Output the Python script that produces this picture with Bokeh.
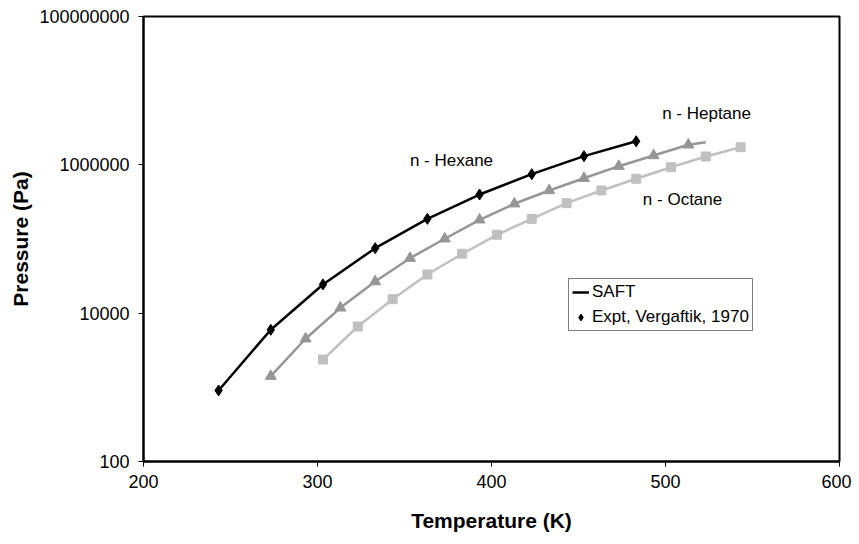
from bokeh.plotting import figure
from bokeh.models import Range1d, FixedTicker, NumeralTickFormatter, Legend, LegendItem, Label
from bokeh.embed import file_html
from bokeh.resources import INLINE

# Temperatures (K) and vapour pressures (Pa)
hexane_T = [243.15, 273.15, 303.15, 333.15, 363.15, 393.15, 423.15, 453.15, 483.15]
hexane_P = [908, 5970, 24400, 75200, 187000, 398000, 748000, 1310000, 2080000]

heptane_T = [273.15, 293.15, 313.15, 333.15, 353.15, 373.15, 393.15, 413.15,
             433.15, 453.15, 473.15, 493.15, 513.15]
heptane_P = [1413, 4520, 11800, 26700, 55100, 100700, 181500, 298500,
             451000, 660000, 959000, 1336000, 1862000]

octane_T = [303.15, 323.15, 343.15, 363.15, 383.15, 403.15, 423.15, 443.15,
            463.15, 483.15, 503.15, 523.15, 543.15]
octane_P = [2370, 6610, 15430, 33200, 63200, 114000, 187000, 304000,
            451000, 649000, 929000, 1295000, 1730000]

# SAFT curves
saft_hexane_T = hexane_T
saft_hexane_P = hexane_P
saft_heptane_T = heptane_T + [523.15]
saft_heptane_P = heptane_P + [2020000]
saft_octane_T = octane_T
saft_octane_P = octane_P

y_ticks = [100, 10000, 1000000, 100000000]
x_ticks = [200, 300, 400, 500, 600]

FONT = "Liberation Sans"

p = figure(width=851, height=536, y_axis_type="log",
           x_range=Range1d(200, 600), y_range=Range1d(100, 1e8),
           output_backend="svg", toolbar_location=None,
           min_border_left=143, min_border_right=12, min_border_top=16, min_border_bottom=75)

p.xgrid.visible = False
p.ygrid.visible = False
p.outline_line_color = "black"
p.outline_line_width = 2
p.background_fill_color = "white"
p.border_fill_color = "white"

for ax in (p.xaxis[0], p.yaxis[0]):
    ax.axis_line_color = "black"
    ax.axis_line_width = 2
    ax.major_tick_line_color = "black"
    ax.major_tick_line_width = 1
    ax.major_tick_in = 0
    ax.major_tick_out = 5
    ax.minor_tick_line_color = None
    ax.major_label_text_font = FONT
    ax.major_label_text_font_size = "18px"
    ax.major_label_text_color = "black"
    ax.axis_label_text_font = FONT
    ax.axis_label_text_font_size = "21px"
    ax.axis_label_text_font_style = "bold"
    ax.axis_label_text_color = "black"

p.xaxis.ticker = FixedTicker(ticks=x_ticks)
p.yaxis.ticker = FixedTicker(ticks=y_ticks)
p.yaxis.formatter = NumeralTickFormatter(format="0")
p.xaxis.axis_label = "Temperature (K)"
p.yaxis.axis_label = "Pressure (Pa)"
p.xaxis.major_label_standoff = 8
p.xaxis.axis_label_standoff = 18
p.yaxis.major_label_standoff = 9
p.yaxis.axis_label_standoff = 4

c_hex = "black"
c_hep = "#969696"
c_oct = "#c0c0c0"

l_oct = p.line(saft_octane_T, saft_octane_P, line_color=c_oct, line_width=2.5)
s_oct = p.scatter(octane_T, octane_P, marker="square", size=9, fill_color=c_oct, line_color=c_oct)
l_hep = p.line(saft_heptane_T, saft_heptane_P, line_color=c_hep, line_width=2.5)
s_hep = p.scatter(heptane_T, heptane_P, marker="triangle", size=11, fill_color=c_hep, line_color=c_hep)
l_hex = p.line(saft_hexane_T, saft_hexane_P, line_color=c_hex, line_width=2.5)
s_hex = p.scatter(hexane_T, hexane_P, marker="diamond", size=11, fill_color=c_hex, line_color=c_hex)

legend = Legend(items=[LegendItem(label="SAFT", renderers=[l_hex]),
                       LegendItem(label="Expt, Vergaftik, 1970", renderers=[s_hex])],
                location=(425, 130))
legend.border_line_color = "black"
legend.border_line_width = 1
legend.background_fill_color = "white"
legend.background_fill_alpha = 1
legend.label_text_font = FONT
legend.label_text_font_size = "17px"
legend.label_text_color = "black"
legend.padding = 3
legend.spacing = 5
legend.margin = 0
legend.glyph_width = 17
legend.glyph_height = 20
legend.label_standoff = 3
legend.label_height = 20
p.add_layout(legend, "center")

for txt, x, y in [("n - Hexane", 377, 1.15e6), ("n - Heptane", 523.6, 4.9e6), ("n - Octane", 509.8, 3.4e5)]:
    p.add_layout(Label(x=x, y=y, text=txt, text_font=FONT, text_font_size="17px",
                       text_color="black", text_align="center", text_baseline="middle"))

open("out.html", "w").write(file_html(p, INLINE))
